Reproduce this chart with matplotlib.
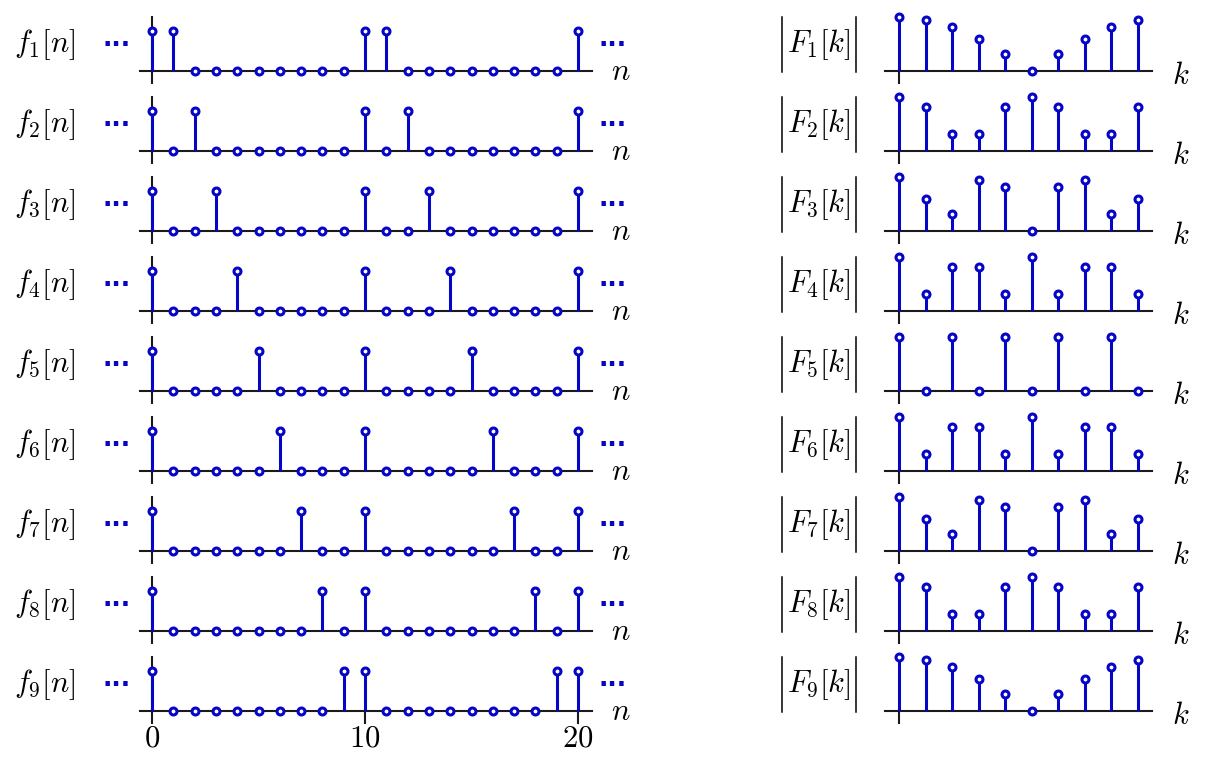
import matplotlib
matplotlib.use('Agg')
import matplotlib.pyplot as plt
from matplotlib.lines import Line2D
import numpy as np

plt.rcParams['mathtext.fontset'] = 'cm'
plt.rcParams['font.family'] = ['DejaVu Serif']

# ---------------- data ----------------
n = np.arange(21)
k = np.arange(10)
pulse_positions = [
    [0, 1, 10, 11, 20],
    [0, 2, 10, 12, 20],
    [0, 3, 10, 13, 20],
    [0, 4, 10, 14, 20],
    [0, 5, 10, 15, 20],
    [0, 6, 10, 16, 20],
    [0, 7, 10, 17, 20],
    [0, 8, 10, 18, 20],
    [0, 9, 10, 19, 20],
]
F1 = [2.00, 1.90, 1.62, 1.18, 0.62, 0.00, 0.62, 1.18, 1.62, 1.90]
F2 = [2.00, 1.62, 0.62, 0.62, 1.62, 2.00, 1.62, 0.62, 0.62, 1.62]
F3 = [2.00, 1.18, 0.62, 1.90, 1.62, 0.00, 1.62, 1.90, 0.62, 1.18]
F4 = [2.00, 0.62, 1.62, 1.62, 0.62, 2.00, 0.62, 1.62, 1.62, 0.62]
F5 = [2.00, 0.00, 2.00, 0.00, 2.00, 0.00, 2.00, 0.00, 2.00, 0.00]
F6 = [2.00, 0.62, 1.62, 1.62, 0.62, 2.00, 0.62, 1.62, 1.62, 0.62]
F7 = [2.00, 1.18, 0.62, 1.90, 1.62, 0.00, 1.62, 1.90, 0.62, 1.18]
F8 = [2.00, 1.62, 0.62, 0.62, 1.62, 2.00, 1.62, 0.62, 0.62, 1.62]
F9 = [2.00, 1.90, 1.62, 1.18, 0.62, 0.00, 0.62, 1.18, 1.62, 1.90]
F_rows = [F1, F2, F3, F4, F5, F6, F7, F8, F9]
n_ticks = [0, 10, 20]

# ---------------- style ----------------
W, H = 1210, 764
BLUE = '#0505c8'
AXC = '#1a1a1a'
FS = 22

fig = plt.figure(figsize=(W / 100, H / 100), dpi=100)


def add_ax(x0, x1, ytop, ybot, xlim, ylim):
    ax = fig.add_axes([x0 / W, 1 - ybot / H, (x1 - x0) / W, (ybot - ytop) / H])
    ax.set_xlim(*xlim)
    ax.set_ylim(*ylim)
    ax.axis('off')
    return ax


def draw_stems(ax, x, y):
    ml, sl, bl = ax.stem(x, y, linefmt='-', markerfmt='o', basefmt=' ')
    plt.setp(sl, color=BLUE, linewidth=2.2, zorder=3)
    plt.setp(ml, color=BLUE, markerfacecolor='white', markeredgecolor=BLUE,
             markersize=5.0, markeredgewidth=2.2, zorder=4)


def fx(px):
    return px / W


def fy(py):
    return 1 - py / H


# panel geometry (pixels)
L0, LDX = 152.0, 21.3      # n = 0 position, px per unit
LVY = 40.0                 # px per unit amplitude
R0, RDX = 899.0, 26.55     # k = 0 position
RVY = 27.0

for i in range(9):
    yb = 71 + 80 * i
    # ---- left: f_m[n]
    axL = add_ax(100, 640, yb - 62, yb + 40,
                 ((100 - L0) / LDX, (640 - L0) / LDX),
                 (-40 / LVY, 62 / LVY))
    vals = np.zeros(len(n))
    vals[pulse_positions[i]] = 1.0
    axL.plot([(140 - L0) / LDX, (592 - L0) / LDX], [0, 0], color=AXC, lw=1.5, zorder=2)
    axL.plot([0, 0], [-12 / LVY, 54 / LVY], color=AXC, lw=1.5, zorder=2)
    draw_stems(axL, n, vals)
    if i == 8:
        for t in n_ticks[1:]:
            axL.plot([t, t], [-12 / LVY, 0], color=AXC, lw=1.5, zorder=2)
        for t in n_ticks:
            axL.text(t, -27 / LVY, f'${t}$', ha='center', va='center', fontsize=FS)

    fig.text(fx(44.5), fy(yb - 26), rf'$f_{i + 1}[n]$', ha='center', va='center', fontsize=FS)
    fig.text(fx(117), fy(yb - 26), '···', ha='center', va='center', fontsize=18,
             color=BLUE, fontweight='bold', family='DejaVu Sans')
    fig.text(fx(613), fy(yb - 26), '···', ha='center', va='center', fontsize=18,
             color=BLUE, fontweight='bold', family='DejaVu Sans')
    fig.text(fx(621), fy(yb + 1), r'$n$', ha='center', va='center', fontsize=FS)

    # ---- right: |F_m[k]|
    axR = add_ax(870, 1170, yb - 62, yb + 40,
                 ((870 - R0) / RDX, (1170 - R0) / RDX),
                 (-40 / RVY, 62 / RVY))
    axR.plot([(885 - R0) / RDX, (1152 - R0) / RDX], [0, 0], color=AXC, lw=1.5, zorder=2)
    axR.plot([0, 0], [-12 / RVY, 0], color=AXC, lw=1.5, zorder=2)
    draw_stems(axR, k, F_rows[i])

    fig.text(fx(819), fy(yb - 26), rf'$F_{i + 1}[k]$', ha='center',
             va='center', fontsize=FS)
    for bx in (782, 856):
        fig.add_artist(Line2D([fx(bx), fx(bx)], [fy(yb - 54), fy(yb + 1)],
                              color='black', lw=1.1))
    fig.text(fx(1181), fy(yb + 4), r'$k$', ha='center', va='center', fontsize=FS)

fig.savefig('out.png', dpi=100)
